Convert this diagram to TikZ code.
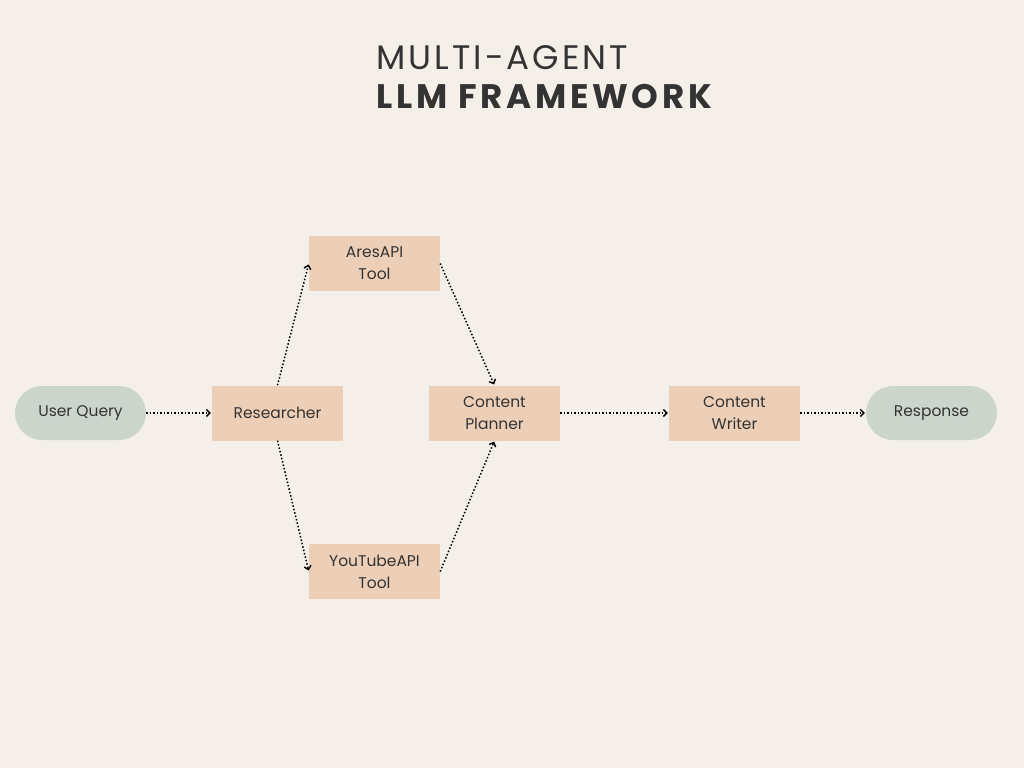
\documentclass[tikz,border=0pt]{standalone}
\usepackage{fontspec}
\setmainfont{Poppins}
\newfontfamily\titlefont[LetterSpace=9]{Poppins}
\newfontfamily\titlefontb[LetterSpace=11]{Poppins}
\usetikzlibrary{arrows.meta}
\definecolor{bg}{HTML}{F4EFE9}
\definecolor{boxc}{HTML}{EDCFB8}
\definecolor{pillc}{HTML}{CBD5CC}
\definecolor{txt}{HTML}{333333}
\tikzset{
  agent/.style={fill=boxc, minimum width=131pt, minimum height=55pt, inner sep=0pt, align=center, font=\fontsize{15.5}{22}\selectfont, text=txt},
  pill/.style={fill=pillc, rounded corners=27pt, minimum width=131pt, minimum height=54pt, inner sep=0pt, align=center, font=\fontsize{15.5}{22}\selectfont, text=txt},
  flow/.style={draw=black, line width=1.5pt, dotted, -{Straight Barb[length=3.5pt,width=7pt,line width=1.4pt]}, shorten >=1pt}
}
\begin{document}
\begin{tikzpicture}[x=1pt,y=-1pt]
\fill[bg] (0,0) rectangle (1024,768);
\useasboundingbox (0,0) rectangle (1024,768);
\node[anchor=base west, inner sep=0pt, text=txt, font=\titlefont\fontsize{34}{40}\selectfont] (t1) at (376,70) {MULTI-AGENT};
\node[anchor=base west, inner sep=0pt, text=txt, font=\titlefontb\bfseries\fontsize{34}{40}\selectfont] (t2) at (376,108) {LLM FRAMEWORK};
\node[pill] (uq) at (80.5,413) {User Query};
\node[agent] (res) at (277.5,413) {Researcher};
\node[agent] (ares) at (374.5,263.5) {AresAPI\\Tool};
\node[agent] (plan) at (494.5,413) {Content\\Planner};
\node[agent] (yt) at (374.5,571.5) {YouTubeAPI\\Tool};
\node[agent] (wri) at (734.5,413) {Content\\Writer};
\node[pill] (resp) at (931.5,413) {Response};
\draw[flow] (uq.east) -- (res.west);
\draw[flow] (res.north) -- (ares.west);
\draw[flow] (ares.east) -- (plan.north);
\draw[flow] (res.south) -- (yt.west);
\draw[flow] (yt.east) -- (plan.south);
\draw[flow] (plan.east) -- (wri.west);
\draw[flow] (wri.east) -- (resp.west);
\end{tikzpicture}
\end{document}
